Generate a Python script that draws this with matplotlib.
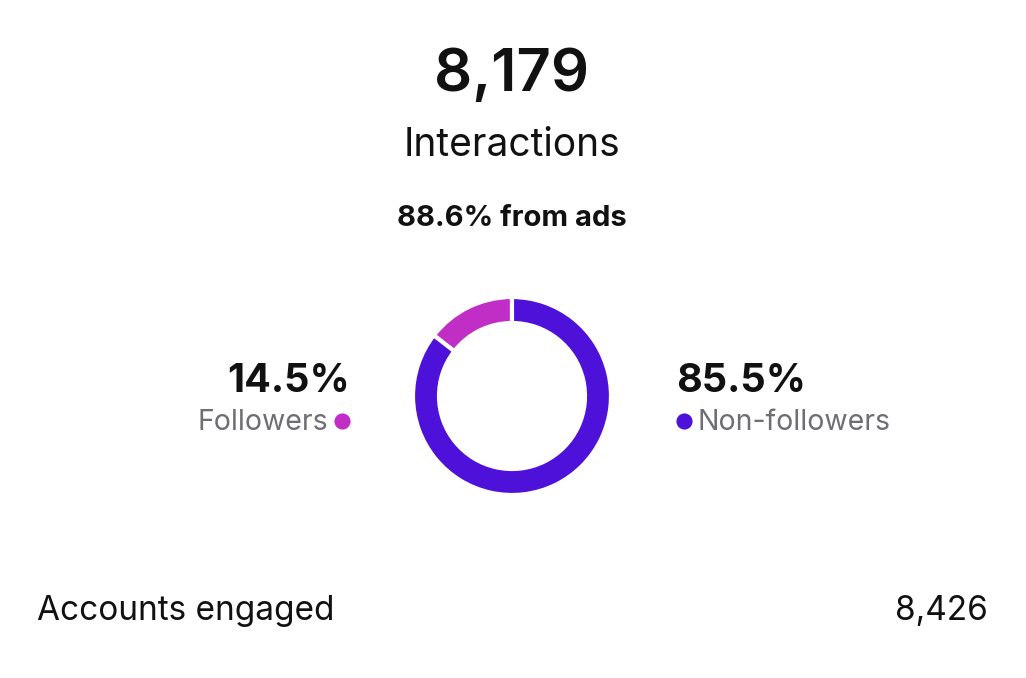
import matplotlib
matplotlib.use("Agg")
import matplotlib.pyplot as plt

plt.rcParams['font.family'] = ['Inter', 'DejaVu Sans']

total_interactions = "8,179"
headline_label = "Interactions"
ads_note = "88.6% from ads"
categories = ["Followers", "Non-followers"]
shares = [14.5, 85.5]
colors = ["#C02EC6", "#4E11DA"]
footer_label = "Accounts engaged"
footer_value = "8,426"

W, H = 1026, 678
fig = plt.figure(figsize=(W / 100, H / 100), dpi=100)
ax = fig.add_axes([0, 0, 1, 1])

def Y(y):
    return H - y

cx, cy, R, width = 512, 396, 99, 26
ax.pie(shares, colors=colors, startangle=90, counterclock=True,
       center=(cx, Y(cy)), radius=R, frame=True,
       wedgeprops=dict(width=width, edgecolor="white", linewidth=3.0))

ax.set_xlim(0, W)
ax.set_ylim(0, H)
ax.set_aspect('equal')
ax.axis('off')

dark = "#111111"
gray = "#6e6e73"

ax.text(512, Y(76), total_interactions, ha='center', va='center', fontsize=43,
        fontweight='semibold', color=dark)
ax.text(512, Y(146), headline_label, ha='center', va='center', fontsize=28, color=dark)
ax.text(512, Y(219), ads_note, ha='center', va='center', fontsize=21,
        fontweight='bold', color=dark)

# left label (Followers)
ax.text(350, Y(381), f"{shares[0]}%", ha='right', va='center', fontsize=28.5,
        fontweight='bold', color=dark)
ax.text(328, Y(423), categories[0], ha='right', va='center', fontsize=20.5, color=gray)
ax.scatter([342], [Y(421)], s=135, color=colors[0], zorder=3, linewidths=0)

# right label (Non-followers)
ax.text(676, Y(381), f"{shares[1]}%", ha='left', va='center', fontsize=28.5,
        fontweight='bold', color=dark)
ax.scatter([684], [Y(421)], s=135, color=colors[1], zorder=3, linewidths=0)
ax.text(697, Y(423), categories[1], ha='left', va='center', fontsize=20.5, color=gray)

ax.text(37, Y(611), footer_label, ha='left', va='center', fontsize=24, color=dark)
ax.text(988, Y(611), footer_value, ha='right', va='center', fontsize=24, color=dark)

fig.savefig("out.png", dpi=100, facecolor="white")
